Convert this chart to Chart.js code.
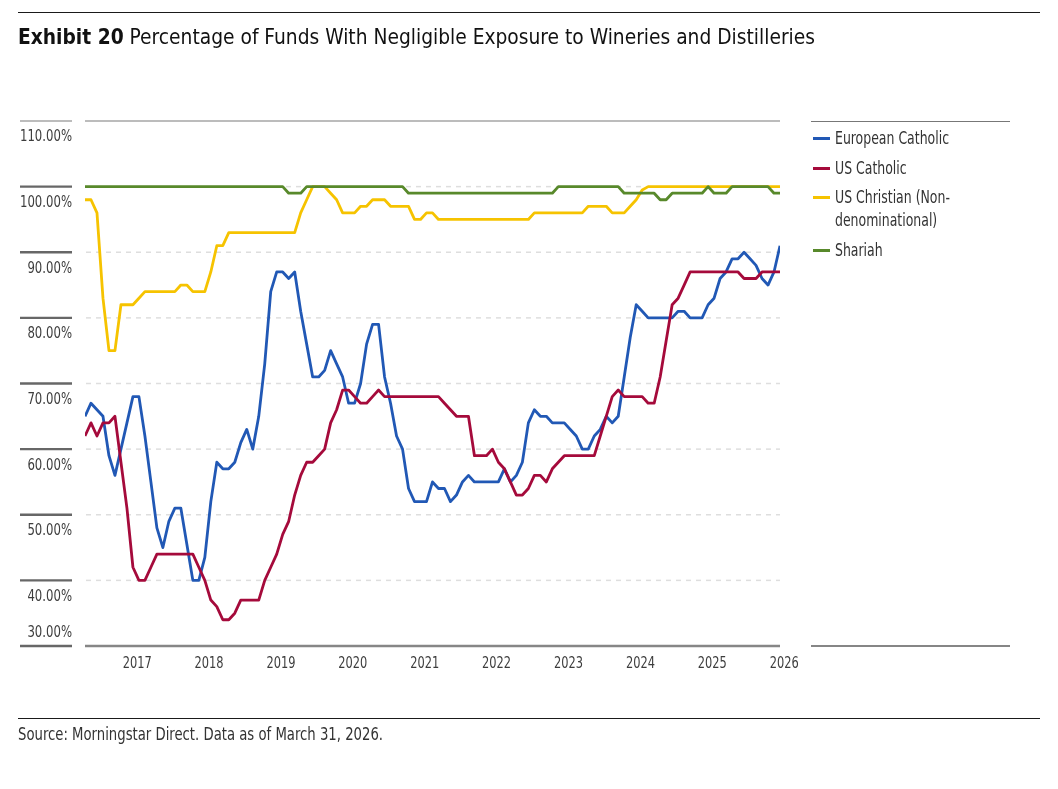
<!DOCTYPE html>
<html>
<head>
<meta charset="utf-8">
<title>Exhibit 20</title>
<script src="https://cdn.jsdelivr.net/npm/chart.js@4.4.1/dist/chart.umd.min.js"></script>
<style>
html,body{margin:0;padding:0;background:#fff;}
#wrap{position:relative;width:1058px;height:789px;overflow:hidden;background:#fff;}
#chart{position:absolute;left:0;top:0;}
.rule{position:absolute;height:1px;background:#1a1a1a;}
.txt{position:absolute;white-space:nowrap;transform-origin:0 50%;display:inline-block;}
#title{left:18px;top:24px;font-size:21px;line-height:26px;color:#111;}
#title b{font-weight:700;}
#source{left:18px;top:724px;font-size:17px;line-height:20px;color:#333;}
.li{left:835px;font-size:17px;line-height:23px;color:#333;}
.sw{position:absolute;left:813px;width:17px;height:3px;}
</style>
</head>
<body>
<div id="wrap">
  <canvas id="chart" width="1058" height="789"></canvas>
  <div class="rule" style="left:18px;top:12px;width:1022px;"></div>
  <div id="title" class="txt"><b>Exhibit 20</b> Percentage of Funds With Negligible Exposure to Wineries and Distilleries</div>
  <div class="rule" style="left:811px;top:121px;width:199px;background:#777;"></div>
  <div class="rule" style="left:811px;top:645px;width:199px;height:2px;background:#868686;"></div>
  <div id="legend"></div>
  <div class="rule" style="left:18px;top:718px;width:1022px;"></div>
  <div id="source" class="txt">Source: Morningstar Direct. Data as of March 31, 2026.</div>
</div>
<script>
// ---------------- data ----------------
// monthly observations, April 2016 .. December 2025
const months = [];
for (let y = 2016, m = 4; y < 2026; ) {
  months.push(y + '-' + String(m).padStart(2, '0'));
  m++; if (m > 12) { m = 1; y++; }
}
const yearLabels = ['2017','2018','2019','2020','2021','2022','2023','2024','2025','2026'];
const yTickValues = [110,100,90,80,70,60,50,40,30];
const yTickLabels = ['110.00%','100.00%','90.00%','80.00%','70.00%','60.00%','50.00%','40.00%','30.00%'];

const seriesNames = ['European Catholic','US Catholic','US Christian (Non-\ndenominational)','Shariah'];
const seriesColors = ['#2158b5','#a50a3b','#f6c300','#58892b'];

const euroCatholic = [65,67,66,65,59,56,60,64,68,68,
  62,55,48,45,49,51,51,45.5,40,40,
  43.5,52,58,57,57,58,61,63,60,65,
  73,84,87,87,86,87,81,76,71,71,
  72,75,73,71,67,67,70,76,79,79,
  71,67,62,60,54,52,52,52,55,54,
  54,52,53,55,56,55,55,55,55,55,
  57,55,56,58,64,66,65,65,64,64,
  64,63,62,60,60,62,63,65,64,65,
  71,77,82,81,80,80,80,80,80,81,
  81,80,80,80,82,83,86,87,89,89,
  90,89,88,86,85,87,91];
const usCatholic = [62,64,62,64,64,65,58,51,42,40,
  40,42,44,44,44,44,44,44,44,42,
  40,37,36,34,34,35,37,37,37,37,
  40,42,44,47,49,53,56,58,58,59,
  60,64,66,69,69,68,67,67,68,69,
  68,68,68,68,68,68,68,68,68,68,
  67,66,65,65,65,59,59,59,60,58,
  57,55,53,53,54,56,56,55,57,58,
  59,59,59,59,59,59,62,65,68,69,
  68,68,68,68,67,67,71,76.5,82,83,
  85,87,87,87,87,87,87,87,87,87,
  86,86,86,87,87,87,87];
const usChristian = [98,98,96,83,75,75,82,82,82,83,
  84,84,84,84,84,84,85,85,84,84,
  84,87,91,91,93,93,93,93,93,93,
  93,93,93,93,93,93,96,98,100,100,
  100,99,98,96,96,96,97,97,98,98,
  98,97,97,97,97,95,95,96,96,95,
  95,95,95,95,95,95,95,95,95,95,
  95,95,95,95,95,96,96,96,96,96,
  96,96,96,96,97,97,97,97,96,96,
  96,97,98,99.5,100,100,100,100,100,100,
  100,100,100,100,100,100,100,100,100,100,
  100,100,100,100,100,100,100];
const shariah = [100,100,100,100,100,100,100,100,100,100,
  100,100,100,100,100,100,100,100,100,100,
  100,100,100,100,100,100,100,100,100,100,
  100,100,100,100,99,99,99,100,100,100,
  100,100,100,100,100,100,100,100,100,100,
  100,100,100,100,99,99,99,99,99,99,
  99,99,99,99,99,99,99,99,99,99,
  99,99,99,99,99,99,99,99,99,100,
  100,100,100,100,100,100,100,100,100,100,
  99,99,99,99,99,99,98,98,99,99,
  99,99,99,99,100,99,99,99,100,100,
  100,100,100,100,100,99,99];

// ---------------- fonts ----------------
const mctx = document.createElement('canvas').getContext('2d');
function hasFont(f) {
  const s = 'Exhibit 110.00% Catholic';
  mctx.font = '40px monospace'; const a = mctx.measureText(s).width;
  mctx.font = '40px "' + f + '", monospace'; const b = mctx.measureText(s).width;
  return Math.abs(a - b) > 0.5;
}
const baseFamily = ['Liberation Sans Narrow','Arial Narrow','DejaVu Sans Condensed','Liberation Sans'].find(hasFont) || 'sans-serif';
const FF = '"' + baseFamily + '", "Liberation Sans", sans-serif';
function textWidth(t, px, w) { mctx.font = (w || 'normal') + ' ' + px + 'px ' + FF; return mctx.measureText(t).width; }
const sxY = 52 / textWidth('110.00%', 16);
const sxX = 29 / textWidth('2017', 16);

// ---------------- html text ----------------
document.querySelectorAll('#title,#source,.li').forEach(e => e.style.fontFamily = FF);
const legend = document.getElementById('legend');
const itemY = [138, 168, 197, 250];
seriesNames.forEach((n, k) => {
  const sw = document.createElement('div');
  sw.className = 'sw'; sw.style.top = (itemY[k] - 1.5) + 'px'; sw.style.background = seriesColors[k];
  legend.appendChild(sw);
  n.split('\n').forEach((line, j) => {
    const d = document.createElement('div');
    d.className = 'txt li'; d.style.fontFamily = FF;
    d.style.top = (itemY[k] - 11.5 + j * 23) + 'px';
    d.textContent = line;
    legend.appendChild(d);
  });
});
function fit(el, target) {
  const w = el.getBoundingClientRect().width;
  if (w > 0) el.style.transform = 'scaleX(' + (target / w) + ')';
}
fit(document.getElementById('title'), 797);
fit(document.getElementById('source'), 365);
const legItems = Array.from(document.querySelectorAll('.li'));
const legScale = 114 / legItems[0].getBoundingClientRect().width;
legItems.forEach(e => e.style.transform = 'scaleX(' + legScale + ')');

// ---------------- chart ----------------
const xMax = months.length - 1;
const pts = arr => arr.map((v, i) => ({ x: i, y: v }));
// Jan of each labelled year, as month offset from April 2016
const yearPos = yearLabels.map(y => (Number(y) - 2016) * 12 - 3 - 0.3);

function hline(ctx, x1, x2, y) { ctx.beginPath(); ctx.moveTo(x1, y); ctx.lineTo(x2, y); ctx.stroke(); }
function drawText(ctx, t, x, y, align, sx) {
  ctx.save(); ctx.translate(x, y); ctx.scale(sx, 1);
  ctx.textAlign = align; ctx.textBaseline = 'middle'; ctx.fillText(t, 0, 0); ctx.restore();
}

const decor = {
  id: 'decor',
  beforeDatasetsDraw(chart) {
    const { ctx, chartArea: a, scales: { x, y } } = chart;
    const L = a.left, R = x.getPixelForValue(xMax);
    ctx.save();
    ctx.strokeStyle = '#dedede'; ctx.lineWidth = 1.5; ctx.setLineDash([5, 5]);
    yTickValues.forEach(v => { if (v > 30 && v < 110) hline(ctx, L + 1, R, y.getPixelForValue(v)); });
    ctx.setLineDash([]);
    ctx.strokeStyle = '#7a7a7a'; ctx.lineWidth = 1.2;
    hline(ctx, L, R, y.getPixelForValue(110));
    hline(ctx, 20, 72, y.getPixelForValue(110));
    ctx.strokeStyle = '#868686'; ctx.lineWidth = 2.4;
    hline(ctx, L, R, y.getPixelForValue(30));
    ctx.strokeStyle = '#676767';
    yTickValues.forEach(v => { if (v < 110) hline(ctx, 20, 72, y.getPixelForValue(v)); });
    ctx.restore();
  },
  afterDraw(chart) {
    const { ctx, scales: { x, y } } = chart;
    ctx.save();
    ctx.fillStyle = '#3d3d3d';
    ctx.font = '16px ' + FF;
    yTickValues.forEach((v, k) => {
      const py = y.getPixelForValue(v) + (v === 30 ? -13 : 16.3);
      drawText(ctx, yTickLabels[k], 72, py, 'right', sxY);
    });
    yearLabels.forEach((t, k) => drawText(ctx, t, x.getPixelForValue(yearPos[k]), 664, 'center', sxX));
    ctx.restore();
  }
};

const mk = (k, arr) => ({
  label: seriesNames[k].replace('\n', ''), data: pts(arr),
  borderColor: seriesColors[k], backgroundColor: seriesColors[k],
  borderWidth: 2.8, pointRadius: 0, tension: 0, fill: false,
  borderJoinStyle: 'round', borderCapStyle: 'butt'
});

new Chart(document.getElementById('chart'), {
  type: 'line',
  data: { datasets: [mk(3, shariah), mk(2, usChristian), mk(1, usCatholic), mk(0, euroCatholic)] },
  options: {
    responsive: false, animation: false, devicePixelRatio: 1,
    layout: { padding: { left: 85, right: 278, top: 121, bottom: 143 } },
    scales: {
      x: { type: 'linear', min: 0, max: xMax, display: false },
      y: { type: 'linear', min: 30, max: 110, display: false }
    },
    plugins: { legend: { display: false }, tooltip: { enabled: false } },
    events: []
  },
  plugins: [decor]
});
</script>
</body>
</html>
